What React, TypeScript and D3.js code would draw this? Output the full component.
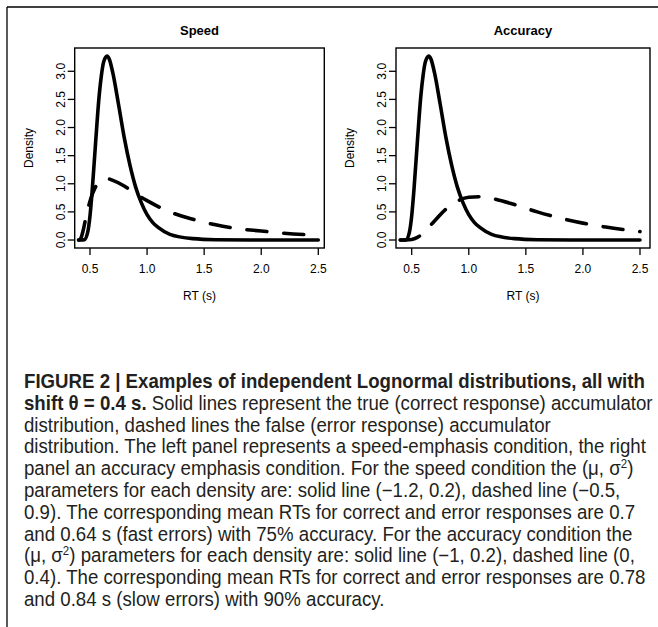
import React from "react";
import * as d3 from "d3";

// tick values shared by both panels
const xTicks = [0.5, 1.0, 1.5, 2.0, 2.5];
const yTicks = [0, 0.5, 1.0, 1.5, 2.0, 2.5, 3.0];

// solid line (correct response accumulator)
const speedCorrectRT = [0.40, 0.42, 0.45, 0.48, 0.50, 0.52, 0.55, 0.58, 0.60, 0.62, 0.65, 0.67, 0.70, 0.75, 0.80, 0.85, 0.90, 0.95, 1.00, 1.05, 1.10, 1.20, 1.40, 1.60, 1.90, 2.50];
const speedCorrect = [0, 0.001, 0.006, 0.14, 0.43, 0.90, 1.76, 2.56, 2.93, 3.17, 3.27, 3.21, 2.97, 2.41, 1.82, 1.33, 0.94, 0.66, 0.45, 0.31, 0.22, 0.10, 0.024, 0.006, 0.001, 0];

// dashed line (error response accumulator), speed panel
const speedErrorRT = [0.40, 0.41, 0.42, 0.44, 0.46, 0.48, 0.50, 0.55, 0.60, 0.65, 0.70, 0.80, 0.90, 1.00, 1.20, 1.40, 1.60, 1.80, 2.00, 2.20, 2.50];
const speedError = [0, 0.004, 0.03, 0.17, 0.36, 0.54, 0.69, 0.95, 1.06, 1.09, 1.06, 0.96, 0.82, 0.70, 0.50, 0.37, 0.27, 0.20, 0.16, 0.12, 0.085];

// accuracy panel
const accCorrectRT = [0.40, 0.42, 0.45, 0.48, 0.50, 0.52, 0.55, 0.58, 0.60, 0.62, 0.65, 0.67, 0.70, 0.75, 0.80, 0.85, 0.90, 0.95, 1.00, 1.05, 1.10, 1.20, 1.40, 1.60, 1.90, 2.50];
const accCorrect = [0, 0.001, 0.006, 0.14, 0.43, 0.90, 1.76, 2.56, 2.93, 3.17, 3.27, 3.21, 2.97, 2.41, 1.82, 1.33, 0.94, 0.66, 0.45, 0.31, 0.22, 0.10, 0.024, 0.006, 0.001, 0];
const accErrorRT = [0.40, 0.45, 0.50, 0.55, 0.60, 0.70, 0.80, 0.90, 1.00, 1.10, 1.20, 1.40, 1.60, 1.80, 2.00, 2.20, 2.50];
const accError = [0, 0.0002, 0.008, 0.047, 0.12, 0.34, 0.55, 0.69, 0.76, 0.77, 0.74, 0.63, 0.50, 0.39, 0.30, 0.23, 0.15];

const plotFont = "'Liberation Sans', Arial, Helvetica, sans-serif";
const capFont = "'Liberation Sans', Arial, sans-serif";

const Panel = ({ title, left, right, x05, x25, correctRT, correct, errorRT, error }) => {
  const top = 48;
  const bottom = 248;
  const pxPerUnit = (x25 - x05) / 2;
  const x = d3
    .scaleLinear()
    .domain([0.5 - (x05 - left) / pxPerUnit, 2.5 + (right - x25) / pxPerUnit])
    .range([left, right]);
  const y = d3.scaleLinear().domain([-0.142, 3.414]).range([bottom, top]);

  const line = d3
    .line()
    .x((d) => x(d[0]))
    .y((d) => y(d[1]))
    .curve(d3.curveMonotoneX);

  const solidPts = correctRT.map((t, i) => [t, correct[i]]);
  const dashPts = errorRT.map((t, i) => [t, error[i]]);
  const fmt = d3.format(".1f");
  const cx = (left + right) / 2;

  return (
    <g fontFamily={plotFont}>
      <text x={cx} y={35} textAnchor="middle" fontSize={13} fontWeight="bold">
        {title}
      </text>
      <path d={line(dashPts)} fill="none" stroke="#000" strokeWidth={3.6} strokeDasharray="20 17" strokeLinecap="round" strokeLinejoin="round" />
      <path d={line(solidPts)} fill="none" stroke="#000" strokeWidth={3.6} strokeLinecap="round" strokeLinejoin="round" />
      <rect x={left} y={top} width={right - left} height={bottom - top} fill="none" stroke="#000" strokeWidth={1.4} />
      {xTicks.map((t) => (
        <g key={"x" + t}>
          <line x1={x(t)} x2={x(t)} y1={bottom} y2={bottom + 7} stroke="#000" strokeWidth={1.3} />
          <text x={x(t)} y={273} textAnchor="middle" fontSize={12}>
            {fmt(t)}
          </text>
        </g>
      ))}
      {yTicks.map((t) => (
        <g key={"y" + t}>
          <line x1={left} x2={left - 7} y1={y(t)} y2={y(t)} stroke="#000" strokeWidth={1.3} />
          <text transform={`translate(${left - 10},${y(t)}) rotate(-90)`} textAnchor="middle" fontSize={12}>
            {fmt(t)}
          </text>
        </g>
      ))}
      <text x={cx} y={300} textAnchor="middle" fontSize={12}>
        RT (s)
      </text>
      <text transform={`translate(${left - 42},${(top + bottom) / 2}) rotate(-90)`} textAnchor="middle" fontSize={12}>
        Density
      </text>
    </g>
  );
};

// superscript 2, shifted with dy so the closing bracket goes back to the baseline
const Sq = ({ after }) => (
  <>
    <tspan dy={-7} fontSize={12}>2</tspan>
    <tspan dy={7}>{after}</tspan>
  </>
);

export default function App() {
  const lines = [
    <tspan fontWeight="bold">FIGURE 2 | Examples of independent Lognormal distributions, all with</tspan>,
    <>
      <tspan fontWeight="bold">shift θ = 0.4 s.</tspan>
      <tspan> Solid lines represent the true (correct response) accumulator</tspan>
    </>,
    <tspan>distribution, dashed lines the false (error response) accumulator</tspan>,
    <tspan>distribution. The left panel represents a speed-emphasis condition, the right</tspan>,
    <>
      <tspan>panel an accuracy emphasis condition. For the speed condition the (μ, σ</tspan>
      <Sq after=")" />
    </>,
    <tspan>parameters for each density are: solid line (−1.2, 0.2), dashed line (−0.5,</tspan>,
    <tspan>0.9). The corresponding mean RTs for correct and error responses are 0.7</tspan>,
    <tspan>and 0.64 s (fast errors) with 75% accuracy. For the accuracy condition the</tspan>,
    <>
      <tspan>(μ, σ</tspan>
      <Sq after=") parameters for each density are: solid line (−1, 0.2), dashed line (0," />
    </>,
    <tspan>0.4). The corresponding mean RTs for correct and error responses are 0.78</tspan>,
    <tspan>and 0.84 s (slow errors) with 90% accuracy.</tspan>,
  ];

  return (
    <div style={{ position: "absolute", left: 0, top: 0 }}>
      <svg width={658} height={627} style={{ display: "block", background: "#fff" }}>
        <line x1={7} x2={658} y1={7} y2={7} stroke="#000" strokeWidth={1.3} />
        <line x1={7} x2={7} y1={7} y2={627} stroke="#000" strokeWidth={1.3} />
        <Panel title="Speed" left={74.7} right={324.3} x05={90} x25={318.3} correctRT={speedCorrectRT} correct={speedCorrect} errorRT={speedErrorRT} error={speedError} />
        <Panel title="Accuracy" left={396} right={650} x05={411.7} x25={640} correctRT={accCorrectRT} correct={accCorrect} errorRT={accErrorRT} error={accError} />
        <g transform="translate(24,0) scale(0.957,1)" fontFamily={capFont} fontSize={19.5} fill="#231f20">
          {lines.map((content, i) => (
            <text key={i} x={0} y={388 + i * 21.8}>
              {content}
            </text>
          ))}
        </g>
      </svg>
    </div>
  );
}
